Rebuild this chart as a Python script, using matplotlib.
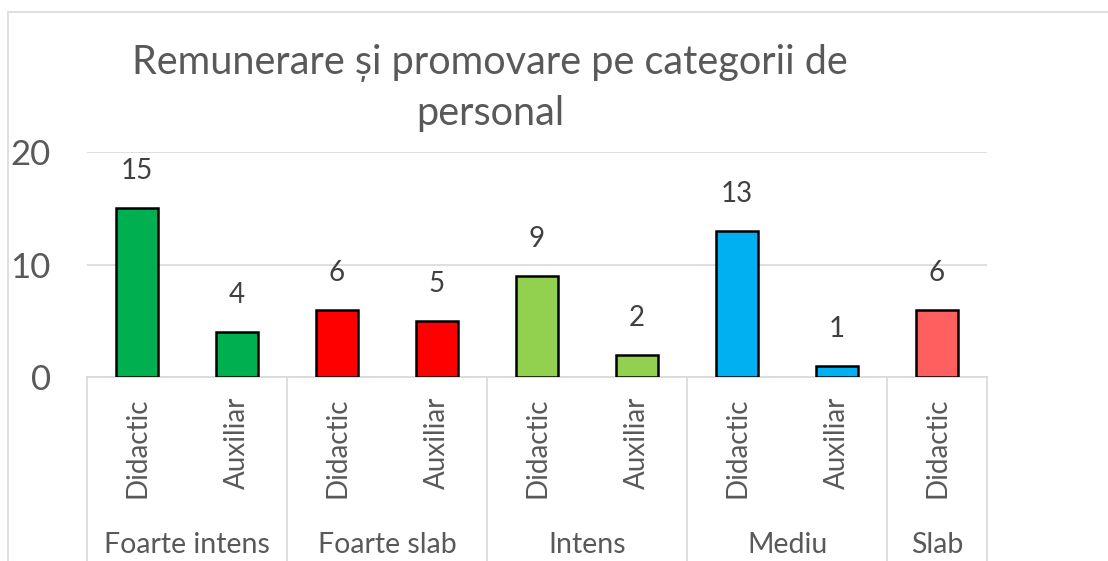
import matplotlib
matplotlib.use('Agg')
from matplotlib import pyplot as plt
from matplotlib.patches import Rectangle
from matplotlib.lines import Line2D
import matplotlib.transforms as mtransforms

plt.rcParams['font.family'] = ['Lato', 'DejaVu Sans']

groups = ['Foarte intens', 'Foarte slab', 'Intens', 'Mediu', 'Slab']
group_sizes = [2, 2, 2, 2, 1]
categories = ['Didactic', 'Auxiliar', 'Didactic', 'Auxiliar', 'Didactic',
              'Auxiliar', 'Didactic', 'Auxiliar', 'Didactic']
values = [15, 4, 6, 5, 9, 2, 13, 1, 6]
group_colors = ['#00B050', '#FF0000', '#92D050', '#00B0F0', '#FF5F5F']

W, H = 1108, 561
fig = plt.figure(figsize=(W / 100, H / 100), dpi=100)

# chart border (light gray, cut off on right/bottom like the reference)
fig.patches.append(Rectangle((8 / W, -0.1), 1.2, (H - 12) / H + 0.1, transform=fig.transFigure,
                             fill=False, edgecolor='#D9D9D9', linewidth=1.2))

ax_l, ax_r, ax_t, ax_b = 87, 987, 152, 377
ax = fig.add_axes([ax_l / W, (H - ax_b) / H, (ax_r - ax_l) / W, (ax_b - ax_t) / H])

colors = []
for c, n in zip(group_colors, group_sizes):
    colors += [c] * n

x = list(range(len(values)))
ax.bar(x, values, width=0.42, color=colors, edgecolor='black', linewidth=1.8, zorder=3)
ax.set_xlim(-0.5, len(values) - 0.5)
ax.set_ylim(0, 20)
ax.set_yticks([0, 10, 20])
ax.yaxis.grid(True, color='#D9D9D9', linewidth=1.2, zorder=0)
ax.tick_params(axis='y', length=0, pad=26, labelsize=25, labelcolor='#595959')
ax.set_xticks([])
for s in ['top', 'right', 'left']:
    ax.spines[s].set_visible(False)
ax.spines['bottom'].set_color('#D9D9D9')
ax.spines['bottom'].set_linewidth(1.2)
ax.set_facecolor('none')

for xi, v in zip(x, values):
    ax.annotate(str(v), (xi, v), xytext=(0, 26.6), textcoords='offset points',
                ha='center', va='center', fontsize=20, color='#404040')

# multi-level category axis
trans = mtransforms.blended_transform_factory(ax.transData, ax.transAxes)
axh = ax_b - ax_t
y_bottom = -(H - ax_b) / axh
for xi, cat in zip(x, categories):
    ax.text(xi, -(397 - ax_b) / axh, cat, transform=trans, rotation=90,
            ha='center', va='top', fontsize=20, color='#595959')

bounds = [-0.5]
for n in group_sizes:
    bounds.append(bounds[-1] + n)
for b in bounds:
    ax.add_line(Line2D([b, b], [0, y_bottom], transform=trans, color='#D9D9D9',
                       linewidth=1.2, clip_on=False))
for g, lo, hi in zip(groups, bounds[:-1], bounds[1:]):
    ax.text((lo + hi) / 2, -(545 - ax_b) / axh, g, transform=trans,
            ha='center', va='center', fontsize=20.5, color='#595959')

fig.text(490 / W, 1 - 63 / H, 'Remunerare și promovare pe categorii de',
         ha='center', va='center', fontsize=28.5, color='#595959')
fig.text(490 / W, 1 - 113 / H, 'personal',
         ha='center', va='center', fontsize=28.5, color='#595959')

fig.savefig('out.png', dpi=100)
